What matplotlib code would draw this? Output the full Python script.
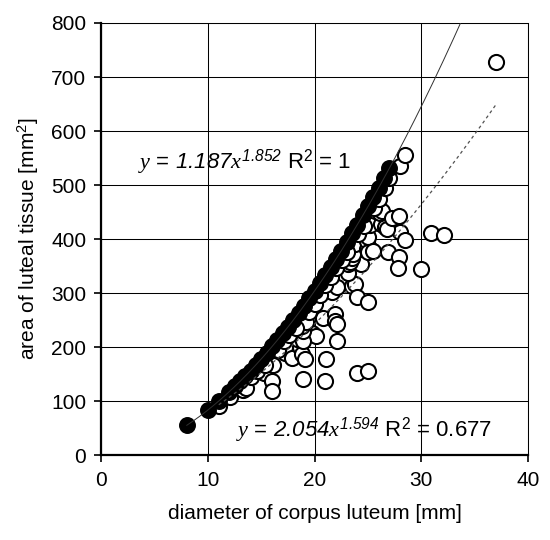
import numpy as np
import matplotlib.pyplot as plt

plt.rcParams.update({
    'font.family'      : ['Liberation Sans', 'DejaVu Sans'],
    'font.size'        : 15,
    'mathtext.fontset' : 'custom',
    'mathtext.it'      : 'Liberation Serif:italic',
    'mathtext.rm'      : 'Liberation Sans',
    'mathtext.sf'      : 'Liberation Sans:italic',
})

# --------------------------------------------------------------------------
# Data
# --------------------------------------------------------------------------
# filled circles (fitted values)
fill_x = [8, 10, 11, 12, 12.5, 13, 13.5, 14, 14.5, 15, 15.5, 16, 16.5, 17,
          17.5, 18, 18.5, 19, 19.5, 20, 20.5, 21, 21.5, 22, 22.5, 23, 23.5,
          24, 24.5, 25, 25.5, 26, 26.5, 27]
fill_y = [56, 84, 101, 118, 128, 137, 147, 157, 168, 179, 190, 202, 213, 226,
          238, 251, 264, 277, 291, 305, 319, 334, 349, 364, 379, 395, 411,
          427, 444, 461, 478, 495, 513, 531]

# open circles (measurements)
open_x = [11.0, 12.1, 13.3, 13.6, 15.2, 16.0, 16.0, 16.1, 17.2, 17.2, 17.9,
          18.6, 18.8, 19.1, 18.9, 21.0, 21.1, 24.0, 25.0, 19.7, 20.1, 22.1,
          18.3, 18.9, 18.9, 18.8, 19.0, 19.2, 20.8, 21.9, 21.9, 22.1, 21.6,
          22.1, 23.5, 23.8, 24.0, 25.0, 22.9, 23.1, 23.1, 24.3, 23.3, 23.5,
          23.6, 23.8, 24.9, 25.2, 24.9, 25.0, 25.0, 25.5, 26.9, 27.9, 27.8,
          30.0, 28.0, 28.5, 30.9, 32.1, 25.2, 26.2, 26.6, 26.8, 26.1, 26.3,
          27.2, 27.9, 28.0, 28.5, 37.0,
          14.0, 14.6, 15.3, 16.6, 17.1, 17.6, 18.2, 19.5, 20.0, 20.5, 21.0,
          21.5, 22.0, 22.6, 23.0, 24.1, 24.6, 25.6, 26.0, 26.6, 27.0]
open_y = [92, 109, 122, 124, 153, 137, 119, 167, 190, 201, 181,
          200, 187, 178, 141, 137, 178, 152, 156, 226, 221, 211,
          215, 211, 230, 239, 249, 246, 254, 262, 249, 243, 302,
          312, 313, 318, 294, 284, 344, 337, 354, 354, 357, 366,
          372, 391, 381, 381, 396, 405, 376, 378, 376, 368, 346,
          344, 414, 399, 411, 407, 427, 428, 422, 418, 448, 452,
          440, 443, 535, 555, 727,
          146, 157, 168, 196, 211, 222, 236, 266, 281, 296, 316,
          330, 346, 362, 377, 410, 424, 458, 474, 494, 514]

# trend lines shown on the chart: y = a * x**b
a_fill, b_fill = 1.187, 1.852
a_open, b_open = 2.054, 1.594

x_ticks = [0, 10, 20, 30, 40]
y_ticks = [0, 100, 200, 300, 400, 500, 600, 700, 800]

# --------------------------------------------------------------------------
# Figure
# --------------------------------------------------------------------------
fig = plt.figure(figsize=(5.5, 5.4), dpi=100)
ax = fig.add_axes([0.1845, 0.1565, 0.7755, 0.801])

ax.scatter(open_x, open_y, s=118, facecolors='white', edgecolors='black',
           linewidths=1.5, zorder=3)
ax.scatter(fill_x, fill_y, s=125, color='black', zorder=4)

t1 = np.linspace(min(fill_x), 34, 300)
ax.plot(t1, a_fill * t1**b_fill, color='#303030', lw=0.7, zorder=5)
t2 = np.linspace(min(open_x), max(open_x), 300)
ax.plot(t2, a_open * t2**b_open, color='#505050', lw=0.9,
        ls=(0, (2.5, 2.5)), zorder=5)

eq_fill = (r'$\mathit{y}$ = $\mathsf{1.187}\mathit{x}^{\mathsf{1.852}}$'
           r' R$^{\mathrm{2}}$ = 1')
eq_open = (r'$\mathit{y}$ = $\mathsf{2.054}\mathit{x}^{\mathsf{1.594}}$'
           r' R$^{\mathrm{2}}$ = 0.677')
ax.text(3.4, 530, eq_fill, fontsize=16, va='baseline', ha='left', zorder=6)
ax.text(12.6, 35, eq_open, fontsize=16, va='baseline', ha='left', zorder=6)

ax.set_xlim(0, 40)
ax.set_ylim(0, 800)
ax.set_xticks(x_ticks)
ax.set_yticks(y_ticks)
ax.grid(True, color='black', lw=0.75)
ax.set_axisbelow(True)
for side in ['top', 'right']:
    ax.spines[side].set_linewidth(0.75)
for side in ['left', 'bottom']:
    ax.spines[side].set_linewidth(1.6)
ax.tick_params(direction='out', length=5, width=1.2, labelsize=15, pad=6)

ax.set_xlabel('diameter of corpus luteum [mm]', fontsize=15, labelpad=10)
ax.set_ylabel('area of luteal tissue [mm$^\\mathrm{2}$]', fontsize=15, labelpad=7)

fig.savefig('out.png', dpi=100)
